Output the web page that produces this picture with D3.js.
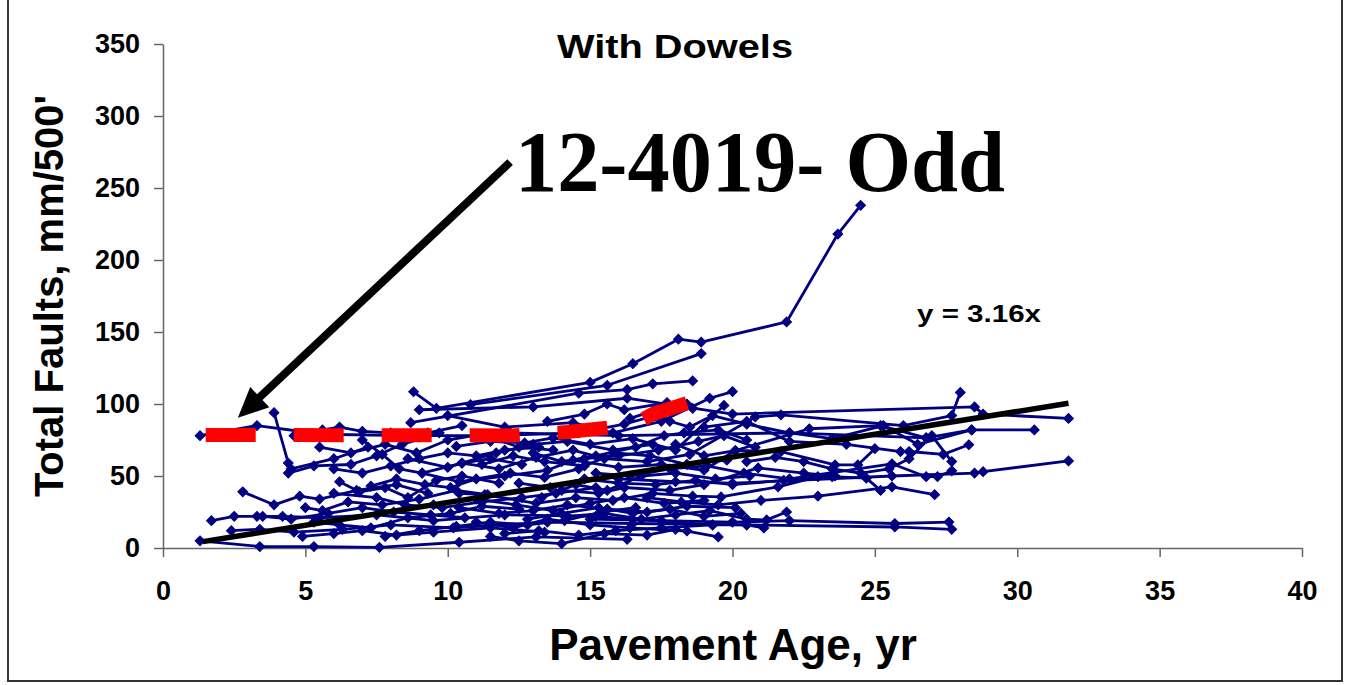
<!DOCTYPE html>
<html>
<head>
<meta charset="utf-8">
<script src="https://cdn.jsdelivr.net/npm/d3@7"></script>
<style>
  html, body { margin: 0; padding: 0; background: #fff; }
  svg { display: block; }
  text { font-family: "Liberation Sans", Arial, sans-serif; font-weight: bold; }
</style>
</head>
<body>
<svg id="chart" width="1345" height="685"></svg>
<script>
// Axis ticks
const xTicks = [0, 5, 10, 15, 20, 25, 30, 35, 40];
const yTicks = [0, 50, 100, 150, 200, 250, 300, 350];

// Fault history of each section: [pavement age (yr), total faults (mm/500')]
const sections = [
  [[1.3,78],[3.3,85],[5.6,79],[8.5,78],[11.5,78],[14.6,80],[16.2,86],[17.3,92],[18.4,100]],
  [[1.3,5],[3.4,1],[5.3,1],[7.6,0.5],[10.4,4],[13.1,7.7],[16.3,6]],
  [[1.7,19],[2.5,22],[3.3,22],[4.2,22],[5.5,21],[7.5,23],[9.5,19],[12,23],[15.2,22],[19.3,16]],
  [[2.4,12],[3.4,13],[4.6,11],[6.3,13],[8.0,16],[10.2,14],[13.5,18],[16.5,17],[20.5,16],[25.7,14.6],[27.7,13]],
  [[2.8,39],[3.9,30],[4.8,36],[5.5,34],[6.8,40],[8.2,44],[9.3,38]],
  [[3.9,94],[4.4,59],[4.5,55],[6.0,62],[7.2,70]],
  [[4.4,52],[5.3,57],[6.6,58],[7.5,64],[8.4,72],[9.7,80]],
  [[4.6,78],[5.6,82],[6.2,84],[7.0,81],[8.0,80],[9.3,80],[10.5,85]],
  [[5.0,28],[5.6,26],[6.5,32],[7.7,30],[9.0,34],[10.3,40],[11.4,37]],
  [[5.3,18],[6.2,16],[7.3,14],[8.6,21],[10.1,24],[11.2,29],[12.5,27]],
  [[4.9,8],[6.0,10],[7.0,12],[8.2,9],[9.5,11],[11.5,14],[13.4,11]],
  [[6.2,46],[6.9,39],[7.8,42],[8.6,35],[9.6,47],[10.5,50],[11.8,45]],
  [[7.0,75],[7.7,65],[8.3,55],[9.1,52],[10.5,59],[11.5,62],[12.6,58]],
  [[8.8,108.5],[9.6,97],[15.0,115],[16.5,128],[18.1,145],[18.9,143],[21.9,157],[23.7,218],[24.5,238]],
  [[10.8,99.5],[15.6,113],[18.9,135]],
  [[8.7,87],[14.6,107.5],[16.3,110],[17.2,114],[18.6,116]],
  [[9.0,96],[13.0,98],[16.3,104],[20.0,93],[28.5,98],[28.8,93],[31.8,90]],
  [[10.0,92],[12.0,84],[14.4,87],[15.8,80],[17.5,88],[19.2,104],[20.0,108.6]],
  [[10.3,70.5],[11.5,74],[12.7,73],[13.7,76.5],[15.0,72],[16.5,76],[18.0,68],[19.7,99]],
  [[10.5,59],[11.8,55],[13.1,63],[14.4,68],[15.5,62],[17.0,60],[18.5,65],[20.8,91],[21.7,92.5],[26.0,85],[27.7,92],[28.0,108]],
  [[9.1,52],[10.4,46],[12.0,50],[13.5,54],[14.4,61],[16.0,56],[17.5,58],[19.0,54],[20.1,67.7],[21.7,67],[23.6,57.7],[24.4,57.7],[25.0,69]],
  [[10.4,38],[11.3,37],[13.1,31],[14.5,35],[15.8,33],[17.2,38],[18.6,36],[19.6,35.5],[21.6,42.5],[23.0,49.5]],
  [[10.4,28],[11.8,24],[13.0,26],[14.2,30],[15.6,27],[17.0,25],[18.4,29],[20.1,28]],
  [[11.0,18],[12.3,14],[13.5,20],[15.0,16],[16.4,14],[18.4,11.8],[19.5,7.7]],
  [[12.0,10],[13.2,12],[14.6,9],[15.9,12],[17.5,14],[19.3,16],[20.5,16],[21.1,13.9]],
  [[12.5,45],[13.6,42],[14.8,48],[16.0,45],[17.3,44],[18.7,47],[20.0,44],[21.8,47],[23.5,49.5],[24.7,48.5],[25.2,40]],
  [[13.0,66],[14.0,60],[15.2,64],[16.6,70],[17.6,78],[18.3,80],[19.5,82],[20.5,75]],
  [[14.2,22],[15.5,24],[16.8,20],[18.0,23],[19.2,26],[20.5,20],[21.2,19.5],[21.9,25]],
  [[14.0,40],[15.3,38],[16.2,42],[17.8,40],[19.0,44],[20.9,55.6],[22.5,52],[23.6,50]],
  [[15.2,52],[16.4,50],[17.8,55],[19.1,57],[20.4,52],[22.0,48],[25.6,58.5],[26.8,49.5],[27.2,49.5],[27.7,53.6]],
  [[16.0,48],[18.0,46],[20.0,45],[25.6,50],[28.5,52],[28.8,53],[31.8,60.5]],
  [[17.0,35],[18.2,32],[19.5,30],[21.0,33],[23.0,36],[25.6,42.5],[27.1,37]],
  [[15.0,20],[17.5,19],[20.0,18],[22.0,19],[25.7,17],[27.6,18]],
  [[18.0,72],[19.0,64],[20.1,67.7],[22.7,82.8],[25.2,85],[26.8,76.5],[28.4,82],[30.6,82]],
  [[19.0,84],[20.5,88],[22.0,74],[24.0,72],[25.9,67],[26.2,67],[27.4,65],[28.3,71.7]],
  [[5.5,70],[6.6,66],[7.8,72],[8.9,66],[10.0,75],[11.2,79],[12.5,70],[13.7,68]],
  [[7.3,43],[8.2,48],[9.2,44],[10.1,42],[11.0,48],[12.2,52],[13.4,49],[14.6,55]],
  [[6.0,38],[7.5,35],[8.5,30],[9.8,28],[11.2,32],[12.6,35],[13.8,38],[15.2,42]],
  [[3.5,22],[4.5,20],[5.8,24],[7.0,28],[8.1,25],[9.4,23],[10.6,21]],
  [[7.8,8],[9.0,12],[10.3,15],[11.5,18],[12.8,16],[14.1,19],[15.4,25],[16.6,28]],
  [[16.4,90],[17.2,95],[17.8,88],[18.5,84],[19.3,92],[20.5,86],[22.0,80],[23.5,76],[25.3,85],[26.5,72],[28.4,82]],
  [[13.5,88],[14.8,93],[15.6,100],[16.2,96],[17.7,101],[18.6,97]],
  [[20.5,60],[21.5,63],[22.5,60],[23.5,55],[24.5,52],[25.5,55],[26.2,62],[27.0,78],[27.7,60]],
  [[11.5,8],[12.5,5],[14.0,3],[15.5,10],[17.0,9],[18.0,13]],
  [[6.0,55],[7.0,52],[8.0,57],[9.0,62],[10.0,66],[11.0,64],[12.0,68],[13.2,70]],
  [[12.2,80],[16.0,78],[22.0,80],[26.8,76.5]],
  [[9.5,30],[11.0,34],[12.4,30],[13.7,26],[15.0,31],[16.2,35],[17.6,31],[19.0,33]],
  [[11.2,58],[12.3,64],[13.4,60],[14.8,57],[15.9,66],[17.1,64],[18.4,58],[19.8,61]],
  [[12.8,20],[14.0,24],[15.3,28],[16.5,24],[17.8,27],[19.0,22],[20.3,24]],
  [[13.3,35],[14.5,44],[15.6,40],[16.8,50],[18.0,52],[19.4,48],[20.6,50]],
  [[8.6,62],[10.0,56],[11.7,66],[13.0,72],[14.2,74],[15.8,68],[17.2,72]],
  [[14.8,62],[16.0,64],[17.4,68],[18.8,74],[19.7,78],[20.8,70]]
];

// Highlighted section 12-4019 (odd lane)
const oddSection = [[1.5,78.5],[12.3,78.2],[14.2,80.5],[16.5,85.5],[17.2,93],[18.4,100.5]];

// Zero-intercept linear trend: y = 3.16x
const trendSlope = 3.16;
const trendAges = [1.4, 31.8];

// Callout arrow, from label to the highlighted section
const arrowAges = [12.19, 2.63];
const arrowFaults = [268, 90.5];

const svg = d3.select("#chart");
const margin = { left: 163, top: 44, right: 1302, bottom: 548 };

const x = d3.scaleLinear().domain([0, 40]).range([margin.left, margin.right]);
const y = d3.scaleLinear().domain([0, 350]).range([margin.bottom, margin.top]);

// outer frame
svg.append("rect")
  .attr("x", 8).attr("y", -2).attr("width", 1334).attr("height", 683)
  .attr("fill", "none").attr("stroke", "#333").attr("stroke-width", 2);

// axes
const axisColor = "#666";
const gx = svg.append("g").attr("transform", `translate(0,${y(0)})`)
  .call(d3.axisBottom(x).tickValues(xTicks).tickSize(9).tickSizeOuter(0).tickPadding(18));
const gy = svg.append("g").attr("transform", `translate(${x(0)},0)`)
  .call(d3.axisLeft(y).tickValues(yTicks).tickSize(9).tickSizeOuter(0).tickPadding(14));
[gx, gy].forEach(g => {
  g.select(".domain").attr("stroke", axisColor).attr("stroke-width", 1.5);
  g.selectAll(".tick line").attr("stroke", axisColor).attr("stroke-width", 1.5);
  g.selectAll(".tick text").attr("fill", "#000")
    .style("font-size", "27px").style("font-weight", "bold")
    .style("font-family", "'Liberation Sans', Arial, sans-serif");
});
gx.selectAll(".tick text").attr("dy", "0.92em");

// section lines and markers
const line = d3.line().x(d => x(d[0])).y(d => y(d[1]));
const navy = "#000080";
const gSec = svg.append("g");
sections.forEach(s => {
  gSec.append("path").attr("d", line(s))
    .attr("fill", "none").attr("stroke", navy).attr("stroke-width", 2.8)
    .attr("stroke-linejoin", "round");
});
const diamond = d3.symbol(d3.symbolSquare, 48);
sections.forEach(s => {
  gSec.selectAll(null).data(s).enter().append("path")
    .attr("d", diamond)
    .attr("transform", d => `translate(${x(d[0])},${y(d[1])}) rotate(45)`)
    .attr("fill", navy).attr("stroke", navy).attr("stroke-width", 1);
});

// trend line
svg.append("path")
  .attr("d", line(trendAges.map(a => [a, trendSlope * a])))
  .attr("stroke", "#000").attr("stroke-width", 5.5).attr("fill", "none");

// highlighted section
svg.append("path").attr("d", line(oddSection))
  .attr("fill", "none").attr("stroke", "#ff0000").attr("stroke-width", 14)
  .attr("stroke-dasharray", "50 38");

// arrow
const ax0 = x(arrowAges[0]), ay0 = y(arrowFaults[0]);
const ax1 = x(arrowAges[1]), ay1 = y(arrowFaults[1]);
const ang = Math.atan2(ay1 - ay0, ax1 - ax0);
const headLen = 30, headHalf = 14;
const bx = ax1 - headLen * Math.cos(ang), by = ay1 - headLen * Math.sin(ang);
svg.append("line")
  .attr("x1", ax0).attr("y1", ay0).attr("x2", bx + 4 * Math.cos(ang)).attr("y2", by + 4 * Math.sin(ang))
  .attr("stroke", "#000").attr("stroke-width", 8);
svg.append("path")
  .attr("d", `M${ax1},${ay1} L${bx + headHalf * Math.sin(ang)},${by - headHalf * Math.cos(ang)} L${bx - headHalf * Math.sin(ang)},${by + headHalf * Math.cos(ang)} Z`)
  .attr("fill", "#000");

// texts
svg.append("text").attr("x", 675).attr("y", 58).attr("text-anchor", "middle")
  .style("font-size", "34px")
  .attr("textLength", 236).attr("lengthAdjust", "spacingAndGlyphs")
  .text("With Dowels");

svg.append("text").attr("x", x(12.36)).attr("y", 191)
  .style("font-family", "'Liberation Serif', 'Times New Roman', serif")
  .style("font-size", "86px")
  .attr("textLength", 490).attr("lengthAdjust", "spacingAndGlyphs")
  .text("12-4019- Odd");

svg.append("text").attr("x", 917).attr("y", 322)
  .style("font-size", "24px")
  .attr("textLength", 124).attr("lengthAdjust", "spacingAndGlyphs")
  .text("y = 3.16x");

svg.append("text").attr("x", 733).attr("y", 660).attr("text-anchor", "middle")
  .style("font-size", "44px").text("Pavement Age, yr");

svg.append("text")
  .attr("transform", "translate(63,296) rotate(-90)")
  .attr("text-anchor", "middle")
  .style("font-size", "40px").text("Total Faults, mm/500'");
</script>
</body>
</html>
